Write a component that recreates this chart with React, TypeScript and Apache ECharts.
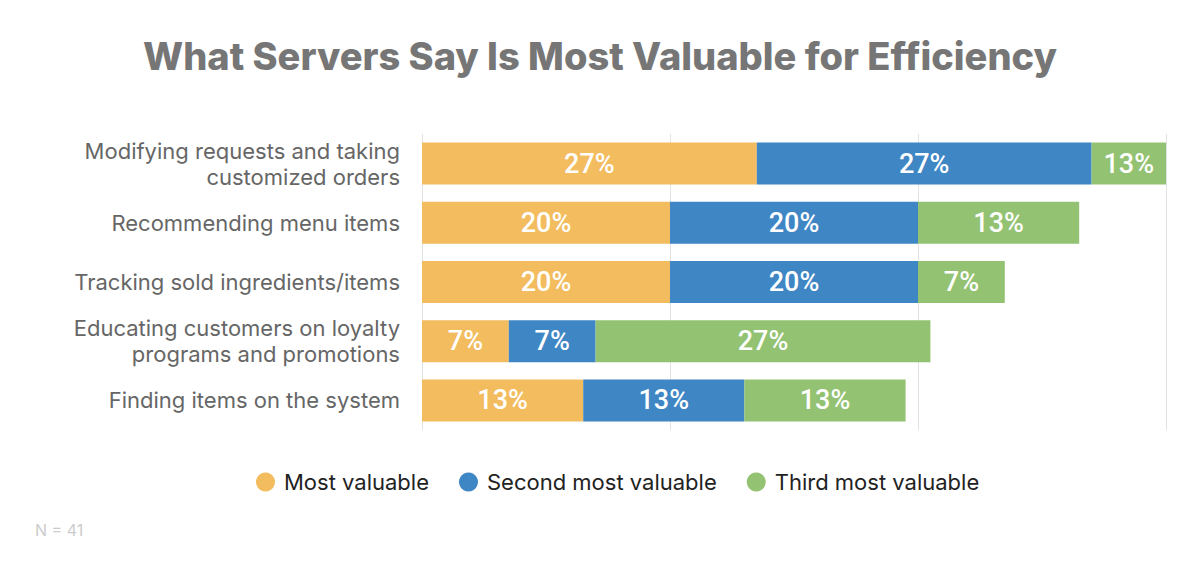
import React, { useEffect, useRef } from "react";
import * as echarts from "echarts";

const categories = [
  "Modifying requests and taking\ncustomized orders",
  "Recommending menu items",
  "Tracking sold ingredients/items",
  "Educating customers on loyalty\nprograms and promotions",
  "Finding items on the system",
];
const seriesNames = ["Most valuable", "Second most valuable", "Third most valuable"];
const mostValuable = [27, 20, 20, 7, 13];
const secondMost = [27, 20, 20, 7, 13];
const thirdMost = [13, 13, 7, 27, 13];
const colors = ["#F2BC5F", "#3F86C4", "#93C272"];
const xTicks = [0, 20, 40, 60];

export default function App() {
  const ref = useRef<HTMLDivElement>(null);
  useEffect(() => {
    if (!ref.current) return;
    const chart = echarts.init(ref.current, null, { renderer: "svg" });
    const labelFont = "'Roboto', 'Liberation Sans Narrow', sans-serif";
    const mkSeries = (name: string, data: number[], color: string) => ({
      name,
      type: "bar",
      stack: "total",
      data,
      barWidth: 42,
      clip: true,
      itemStyle: { color },
      label: {
        show: true,
        position: "inside",
        formatter: "{c}%",
        color: "#ffffff",
        fontFamily: labelFont,
        fontSize: 27,
        fontWeight: 500,
      },
    });
    chart.setOption({
      animation: false,
      title: {
        text: "What Servers Say Is Most Valuable for Efficiency",
        left: "center",
        top: 24,
        textStyle: {
          fontFamily: "Inter, 'Open Sans', sans-serif",
          fontWeight: 800,
          fontSize: 38,
          color: "#767676",
        },
      },
      legend: {
        data: seriesNames,
        top: 458,
        left: 243,
        icon: "circle",
        itemWidth: 19,
        itemHeight: 19,
        itemGap: 30,
        textStyle: {
          fontFamily: "Inter, 'Open Sans', sans-serif",
          fontSize: 22,
          color: "#222222",
          padding: [0, 0, 0, 4],
        },
      },
      grid: { left: 414, right: 26, top: 126, height: 296, containLabel: false },
      xAxis: {
        type: "value",
        min: xTicks[0],
        max: xTicks[xTicks.length - 1],
        interval: 20,
        axisLabel: { show: false },
        axisLine: { show: false },
        axisTick: { show: false },
        splitLine: { show: true, lineStyle: { color: "#e3e3e3", width: 1 } },
      },
      yAxis: {
        type: "category",
        data: categories,
        inverse: true,
        axisLine: { show: false },
        axisTick: { show: false },
        axisLabel: {
          margin: 22,
          fontFamily: "Inter, 'Open Sans', sans-serif",
          fontSize: 22,
          lineHeight: 26,
          color: "#666666",
          align: "right",
        },
      },
      graphic: [
        {
          type: "text",
          left: 27,
          top: 514,
          style: {
            text: "N = 41",
            fontFamily: "Inter, 'Open Sans', sans-serif",
            fontSize: 16,
            fill: "#cccccc",
          },
        },
      ],
      series: [
        mkSeries(seriesNames[0], mostValuable, colors[0]),
        mkSeries(seriesNames[1], secondMost, colors[1]),
        mkSeries(seriesNames[2], thirdMost, colors[2]),
      ],
    });
    return () => chart.dispose();
  }, []);
  return <div ref={ref} style={{ width: 1184, height: 566 }} />;
}
